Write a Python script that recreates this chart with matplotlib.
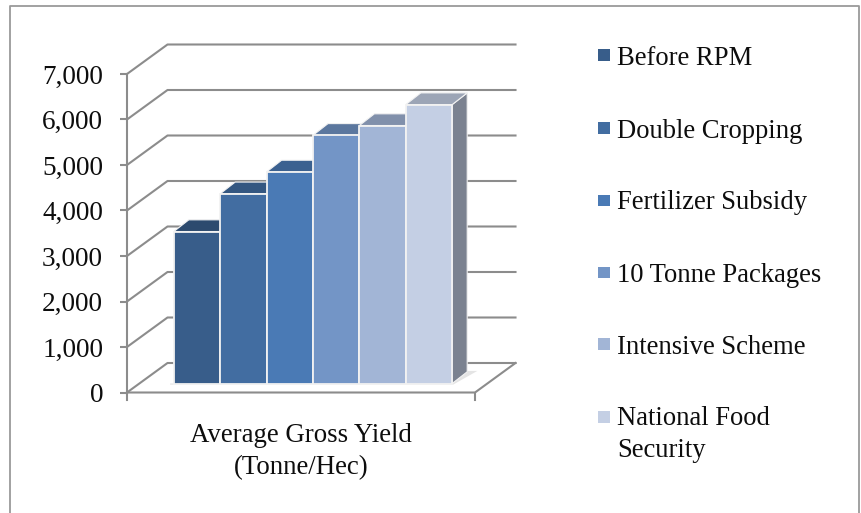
import matplotlib
matplotlib.use("Agg")
import matplotlib.pyplot as plt
from matplotlib.lines import Line2D
from matplotlib.patches import Polygon, Rectangle
from matplotlib.transforms import Affine2D

categories = ["Before RPM", "Double Cropping", "Fertilizer Subsidy",
              "10 Tonne Packages", "Intensive Scheme", "National Food\nSecurity"]
yields = [3340, 4170, 4650, 5455, 5670, 6130]
front_colors = ["#385D8A", "#426DA1", "#4A7AB5", "#7395C6", "#A2B5D6", "#C4CFE4"]
top_colors = ["#2C4A6E", "#345781", "#3B6190", "#5B779E", "#8190AB", "#9CA5B6"]
side_color = "#7B8290"
y_ticks = [0, 1000, 2000, 3000, 4000, 5000, 6000, 7000]
axis_title = "Average Gross Yield\n(Tonne/Hec)"
legend_baselines = [65.2, 137.5, 209.2, 282.2, 354.5, 457.2]
legend_squares = [55, 128, 200.5, 272.5, 344, 417]

W, H = 861, 513
GREY = "#8C8C8C"
INK = "#0D0D0D"
EDGE = "#F2F2F2"

plt.rcParams["font.family"] = ["Liberation Serif", "DejaVu Serif"]
fig = plt.figure(figsize=(W / 100, H / 100), dpi=100)


def fx(px):
    return px / W


def fy(px):
    return 1 - px / H


# Chart frame: left, top and right edges run on past the lower image border
fig.add_artist(Line2D([fx(9.5), fx(9.5), fx(858.5), fx(858.5)],
                      [fy(513), fy(5.5), fy(5.5), fy(513)],
                      transform=fig.transFigure, color="#9A9A9A", lw=1.3))

ax = fig.add_axes([fx(127), fy(392.5), 348 / W, 318.5 / H])
ax.set_xlim(-0.75, 6.75)
ax.set_ylim(0, 7000)
ax.patch.set_visible(False)
for s in ax.spines.values():
    s.set_visible(False)

WALL_DX, WALL_DY = 40.5, 29.5
plane = ax.transData + Affine2D().translate(12, 9)
depth_x, depth_y = 15 / 46.4, 11.7 * 7000 / 318.5

# Back wall gridlines with their slanted side-wall segments
x0, x1 = ax.get_xlim()
for v in y_ticks:
    p0 = ax.transData.transform((x0, v))
    p1 = ax.transData.transform((x1, v))
    ax.plot([p0[0], p0[0] + WALL_DX, p1[0] + WALL_DX],
            [p0[1], p0[1] + WALL_DY, p0[1] + WALL_DY],
            transform=None, color=GREY, lw=1.5, clip_on=False, zorder=1)

# Floor front and right edges, vertical axis, and the two category ticks
p0 = ax.transData.transform((x0, 0))
p1 = ax.transData.transform((x1, 0))
ptop = ax.transData.transform((x0, 7000))
ax.plot([p0[0], p1[0], p1[0] + WALL_DX], [p0[1], p1[1], p1[1] + WALL_DY],
        transform=None, color=GREY, lw=1.5, clip_on=False, zorder=1)
ax.plot([p0[0], ptop[0]], [p0[1], ptop[1]], transform=None, color=GREY,
        lw=1.5, clip_on=False, zorder=1)
for p in (p0, p1):
    ax.plot([p[0], p[0]], [p[1], p[1] - 7], transform=None, color=GREY,
            lw=1.5, clip_on=False, zorder=1)

# Faint floor shadow around the foot of the bars
ax.add_patch(Polygon([(-0.08, -25), (6.02, -25), (6.02 + depth_x + 0.2, depth_y + 20),
                      (6.0, depth_y + 20), (6.0, 0), (-0.08, 0)],
                     transform=plane, fc="#E4E4E4", ec="none", clip_on=False, zorder=2))

# Each bar: side face, top face, then front face, so taller bars overlap shorter ones
for i, v in enumerate(yields):
    left, right = i, i + 1
    ax.add_patch(Polygon([(right, 0), (right + depth_x, depth_y),
                          (right + depth_x, v + depth_y), (right, v)],
                         transform=plane, fc=side_color, ec=EDGE, lw=0.8,
                         clip_on=False, zorder=3 + i))
    ax.add_patch(Polygon([(left, v), (left + depth_x, v + depth_y),
                          (right + depth_x, v + depth_y), (right, v)],
                         transform=plane, fc=top_colors[i], ec=EDGE, lw=0.8,
                         clip_on=False, zorder=3 + i))
    ax.bar(i + 0.5, v, width=1, color=front_colors[i], edgecolor=EDGE,
           linewidth=1.3, transform=plane, clip_on=False, zorder=3 + i)

ax.set_xlim(-0.75, 6.75)
ax.set_ylim(0, 7000)
ax.set_yticks(y_ticks)
ax.set_yticklabels([f"{v:,}" for v in y_ticks], fontsize=19.6, color=INK)
ax.tick_params(axis="y", length=5.2, width=1.5, color=GREY, pad=12)
ax.set_xticks([])

fig.text(fx(301), fy(474), axis_title, ha="center", va="baseline",
         fontsize=19.4, color=INK, linespacing=1.38)

# Legend entries placed by hand to the right of the plot
for name, color, base, sq in zip(categories, front_colors, legend_baselines, legend_squares):
    fig.add_artist(Rectangle((fx(598), fy(sq + 5.7)), 11.5 / W, 11.5 / H,
                             transform=fig.transFigure, fc=color, ec="none"))
    fig.text(fx(617), fy(base), name, ha="left", va="baseline",
             fontsize=19.2, color=INK, linespacing=1.38)

fig.savefig("out.png", dpi=100)
